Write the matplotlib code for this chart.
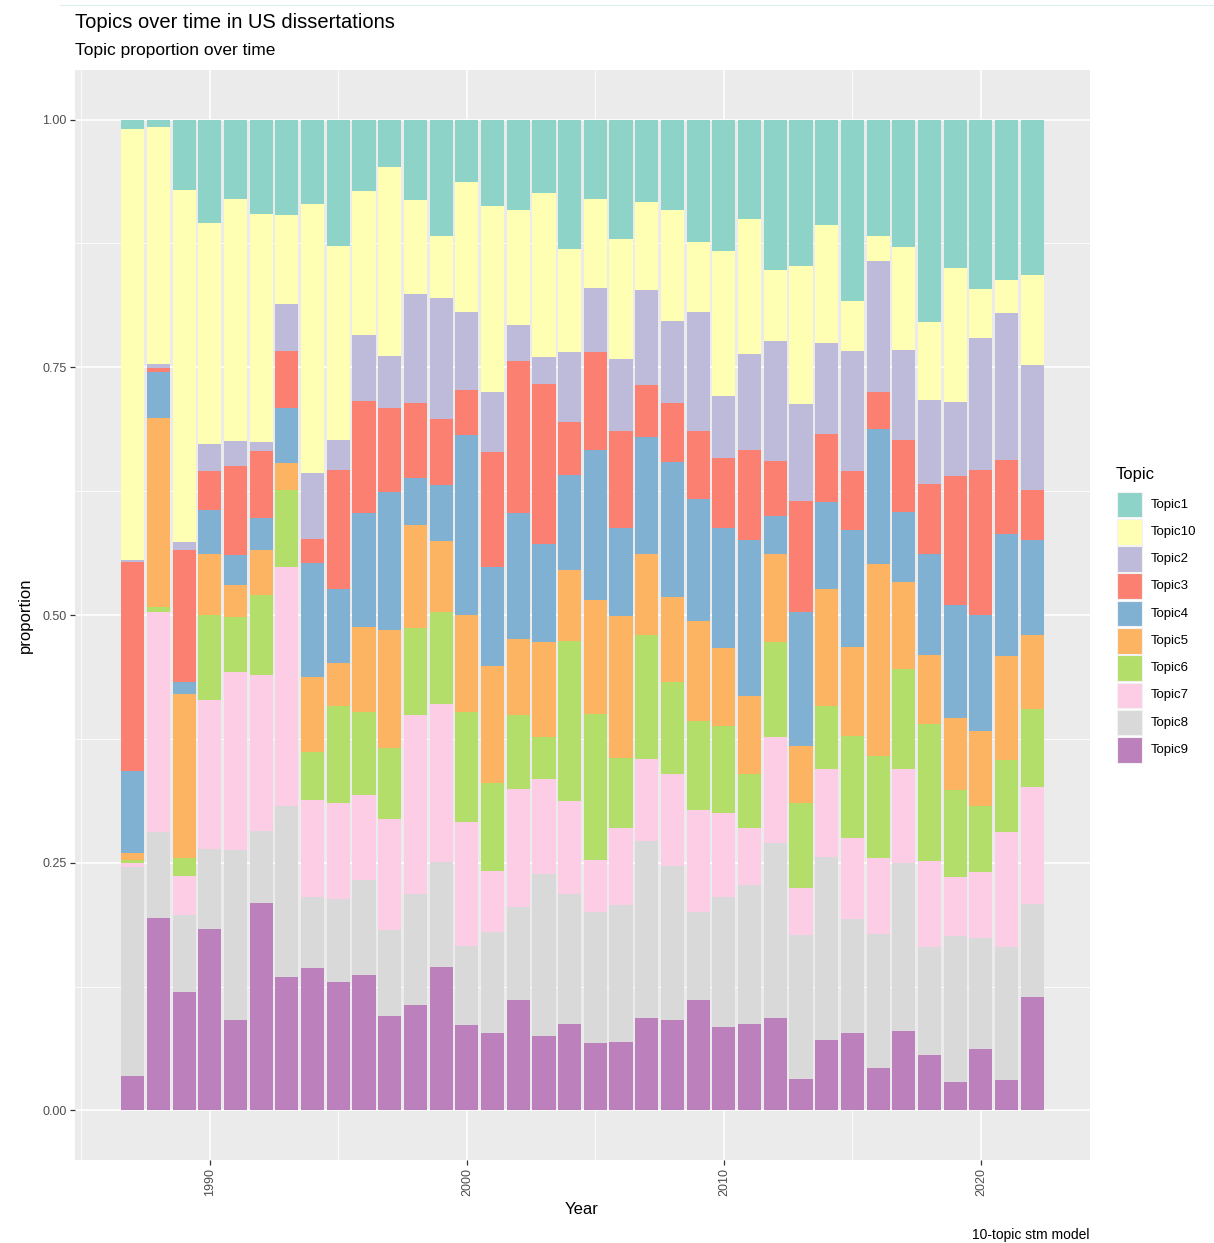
import numpy as np
import matplotlib
matplotlib.use('Agg')
import matplotlib.pyplot as plt
from matplotlib.patches import Rectangle
from matplotlib.lines import Line2D

plt.rcParams['font.family'] = ['Liberation Sans', 'DejaVu Sans']

years = list(range(1987, 2023))

# upper edge of each topic's band in the stack (cumulative proportion)
edge_t9 = [0.035, 0.194, 0.120, 0.183, 0.091, 0.209, 0.135, 0.144, 0.130, 0.137, 0.095, 0.106,
           0.145, 0.086, 0.078, 0.111, 0.075, 0.087, 0.068, 0.069, 0.093, 0.091, 0.111, 0.084,
           0.087, 0.093, 0.032, 0.071, 0.078, 0.043, 0.080, 0.056, 0.029, 0.062, 0.031, 0.114]
edge_t8 = [0.246, 0.281, 0.197, 0.264, 0.263, 0.282, 0.307, 0.215, 0.213, 0.233, 0.182, 0.218,
           0.251, 0.166, 0.180, 0.205, 0.239, 0.218, 0.200, 0.207, 0.272, 0.247, 0.200, 0.215,
           0.228, 0.270, 0.177, 0.256, 0.193, 0.178, 0.250, 0.165, 0.176, 0.174, 0.165, 0.208]
edge_t7 = [0.250, 0.503, 0.237, 0.414, 0.442, 0.439, 0.548, 0.313, 0.310, 0.318, 0.294, 0.399,
           0.410, 0.291, 0.242, 0.324, 0.334, 0.312, 0.253, 0.285, 0.355, 0.340, 0.303, 0.300,
           0.285, 0.377, 0.225, 0.345, 0.275, 0.255, 0.345, 0.252, 0.236, 0.241, 0.281, 0.326]
edge_t6 = [0.253, 0.508, 0.255, 0.500, 0.498, 0.520, 0.626, 0.362, 0.408, 0.402, 0.366, 0.487,
           0.503, 0.402, 0.330, 0.399, 0.377, 0.474, 0.400, 0.356, 0.480, 0.432, 0.393, 0.388,
           0.340, 0.473, 0.310, 0.408, 0.378, 0.358, 0.446, 0.390, 0.323, 0.307, 0.354, 0.405]
edge_t5 = [0.260, 0.699, 0.420, 0.562, 0.530, 0.566, 0.653, 0.437, 0.452, 0.488, 0.485, 0.591,
           0.575, 0.500, 0.449, 0.476, 0.473, 0.545, 0.515, 0.499, 0.562, 0.518, 0.494, 0.467,
           0.418, 0.562, 0.368, 0.526, 0.468, 0.551, 0.533, 0.460, 0.396, 0.383, 0.459, 0.480]
edge_t4 = [0.343, 0.745, 0.432, 0.606, 0.561, 0.598, 0.709, 0.552, 0.526, 0.603, 0.624, 0.638,
           0.631, 0.682, 0.548, 0.603, 0.572, 0.641, 0.667, 0.588, 0.680, 0.654, 0.617, 0.588,
           0.576, 0.600, 0.503, 0.614, 0.586, 0.688, 0.604, 0.562, 0.510, 0.500, 0.582, 0.576]
edge_t3 = [0.553, 0.749, 0.566, 0.645, 0.650, 0.666, 0.766, 0.577, 0.646, 0.716, 0.709, 0.714,
           0.698, 0.727, 0.665, 0.756, 0.733, 0.695, 0.765, 0.686, 0.732, 0.714, 0.686, 0.658,
           0.667, 0.655, 0.615, 0.683, 0.645, 0.725, 0.677, 0.632, 0.640, 0.646, 0.656, 0.626]
edge_t2 = [0.556, 0.753, 0.574, 0.673, 0.676, 0.675, 0.814, 0.643, 0.677, 0.783, 0.761, 0.824,
           0.820, 0.806, 0.725, 0.793, 0.760, 0.765, 0.830, 0.758, 0.828, 0.797, 0.806, 0.721,
           0.763, 0.777, 0.713, 0.774, 0.766, 0.857, 0.767, 0.717, 0.715, 0.780, 0.805, 0.752]
edge_t10 = [0.990, 0.992, 0.929, 0.896, 0.920, 0.905, 0.904, 0.915, 0.872, 0.928, 0.952, 0.919,
            0.882, 0.937, 0.913, 0.909, 0.926, 0.869, 0.920, 0.879, 0.917, 0.909, 0.876, 0.867,
            0.900, 0.848, 0.852, 0.894, 0.817, 0.882, 0.871, 0.796, 0.850, 0.829, 0.838, 0.843]
edge_t1 = [1.0] * len(years)

stack_order = ['Topic9', 'Topic8', 'Topic7', 'Topic6', 'Topic5', 'Topic4', 'Topic3', 'Topic2', 'Topic10', 'Topic1']
legend_order = ['Topic1', 'Topic10', 'Topic2', 'Topic3', 'Topic4', 'Topic5', 'Topic6', 'Topic7', 'Topic8', 'Topic9']
edges = [edge_t9, edge_t8, edge_t7, edge_t6, edge_t5, edge_t4, edge_t3, edge_t2, edge_t10, edge_t1]

colors = {
    'Topic1': '#8DD3C7', 'Topic10': '#FFFFB3', 'Topic2': '#BEBADA', 'Topic3': '#FB8072',
    'Topic4': '#80B1D3', 'Topic5': '#FDB462', 'Topic6': '#B3DE69', 'Topic7': '#FCCDE5',
    'Topic8': '#D9D9D9', 'Topic9': '#BC80BD',
}

W, H = 1214, 1243
fig = plt.figure(figsize=(W / 100, H / 100), dpi=100)
ax = fig.add_axes([75 / W, 1 - 1160 / H, (1090 - 75) / W, (1160 - 70) / H])
ax.set_facecolor('#EBEBEB')
for s in ax.spines.values():
    s.set_visible(False)

bottom = np.zeros(len(years))
for name, edge in zip(stack_order, edges):
    top = np.array(edge)
    ax.bar(years, top - bottom, bottom=bottom, width=0.9, color=colors[name], linewidth=0)
    bottom = top

ax.set_xlim(1984.755, 2024.245)
ax.set_ylim(-0.05, 1.05)
ax.set_xticks([1990, 2000, 2010, 2020])
ax.set_xticks([1985, 1995, 2005, 2015], minor=True)
ax.set_yticks([0, 0.25, 0.5, 0.75, 1.0])
ax.set_yticklabels(['0.00', '0.25', '0.50', '0.75', '1.00'])
ax.set_yticks([0.125, 0.375, 0.625, 0.875], minor=True)
ax.set_axisbelow(True)
ax.grid(which='major', color='white', linewidth=1.2)
ax.grid(which='minor', color='white', linewidth=0.6)
ax.tick_params(which='major', length=3.5, width=0.9, color='#333333', labelcolor='#4D4D4D',
               labelsize=9, pad=2.5)
ax.tick_params(which='minor', length=0)
ax.tick_params(axis='x', labelrotation=90)

# thin rule along the top of the screenshot
fig.add_artist(Line2D([60 / W, 1], [1 - 5 / H, 1 - 5 / H], color='#DCEFEF', linewidth=0.8))

fig.text(75 / W, 1 - 23 / H, 'Topics over time in US dissertations', fontsize=14.5,
         ha='left', va='center')
fig.text(75 / W, 1 - 50 / H, 'Topic proportion over time', fontsize=12.5,
         ha='left', va='center')
fig.text(582 / W, 1 - 1210 / H, 'Year', fontsize=12, ha='center', va='center')
fig.text(25 / W, 1 - 615 / H, 'proportion', fontsize=12, ha='center', va='center',
         rotation=90)
fig.text(1090 / W, 1 - 1235 / H, '10-topic stm model', fontsize=10, ha='right', va='center')

# legend drawn by hand to match ggplot's key size and spacing
fig.text(1116 / W, 1 - 475 / H, 'Topic', fontsize=12, ha='left', va='center')
for i, name in enumerate(legend_order):
    y_top = 491.7 + i * 27.26
    fig.add_artist(Rectangle((1117 / W, 1 - (y_top + 25.6) / H), 25 / W, 25.6 / H,
                             facecolor=colors[name], edgecolor='#F2F2F2', linewidth=0.8,
                             transform=fig.transFigure))
    fig.text(1151 / W, 1 - (y_top + 12.8) / H, name, fontsize=9.5, ha='left', va='center')

fig.savefig('out.png', dpi=100)
